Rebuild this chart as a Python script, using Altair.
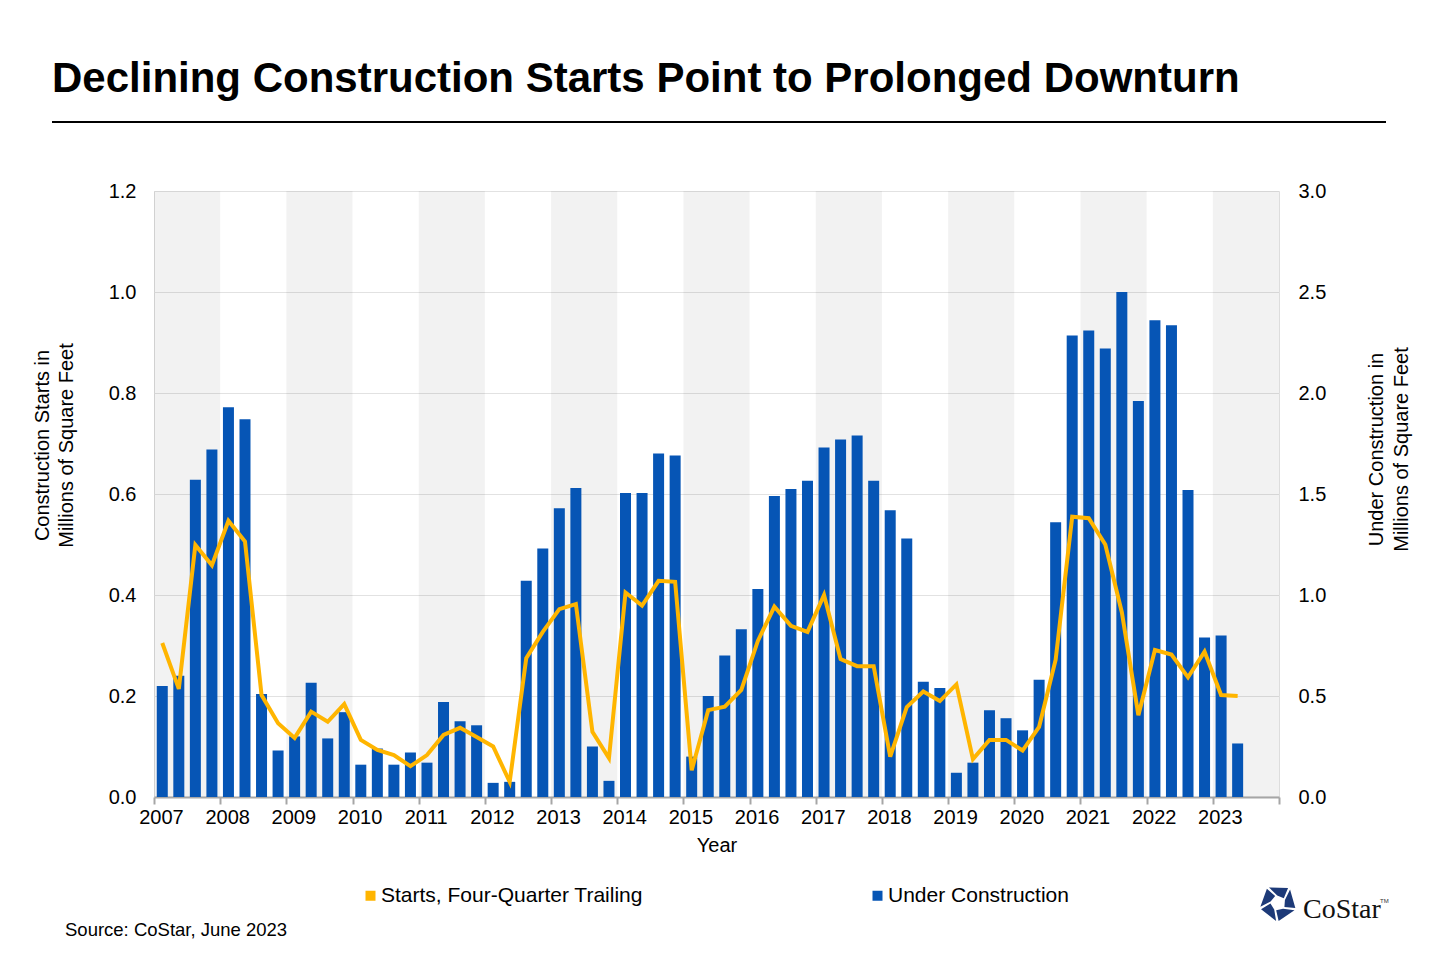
import math
import altair as alt
import pandas as pd

# quarterly series, 2007 Q1 .. 2023 Q2
years = list(range(2007, 2024))
quarter_years = [y for y in years for _ in range(4)][:66]
quarter_nums = [1, 2, 3, 4] * 17
quarter_nums = quarter_nums[:66]

# Starts, four-quarter trailing (left axis, millions sf)
starts = [
    0.305, 0.214, 0.499, 0.459,
    0.547, 0.506, 0.202, 0.146,
    0.117, 0.169, 0.149, 0.184,
    0.113, 0.093, 0.083, 0.061,
    0.083, 0.123, 0.137, 0.119,
    0.100, 0.030, 0.275, 0.327,
    0.372, 0.382, 0.129, 0.077,
    0.405, 0.379, 0.428, 0.426,
    0.053, 0.172, 0.179, 0.212,
    0.309, 0.377, 0.339, 0.327,
    0.400, 0.273, 0.259, 0.259,
    0.080, 0.178, 0.209, 0.190,
    0.223, 0.075, 0.113, 0.113,
    0.092, 0.139, 0.272, 0.555,
    0.552, 0.500, 0.366, 0.162,
    0.291, 0.282, 0.237, 0.288,
    0.202, 0.200,
]

# Under construction (right axis, millions sf)
under_construction = [
    0.55, 0.60, 1.57, 1.72,
    1.93, 1.87, 0.51, 0.23,
    0.30, 0.565, 0.29, 0.42,
    0.16, 0.24, 0.16, 0.22,
    0.17, 0.47, 0.375, 0.355,
    0.07, 0.075, 1.07, 1.23,
    1.43, 1.53, 0.25, 0.08,
    1.505, 1.505, 1.70, 1.69,
    0.20, 0.50, 0.70, 0.83,
    1.03, 1.49, 1.525, 1.565,
    1.73, 1.77, 1.79, 1.565,
    1.42, 1.28, 0.57, 0.54,
    0.12, 0.17, 0.43, 0.39,
    0.33, 0.58, 1.36, 2.285,
    2.31, 2.22, 2.50, 1.96,
    2.36, 2.335, 1.52, 0.79,
    0.80, 0.265,
]

left_ticks = [0.0, 0.2, 0.4, 0.6, 0.8, 1.0, 1.2]
right_ticks = [0.0, 0.5, 1.0, 1.5, 2.0, 2.5, 3.0]
year_ticks = list(range(2007, 2025))
shaded_years = [2007, 2009, 2011, 2013, 2015, 2017, 2019, 2021, 2023]

series_names = ["Starts, Four-Quarter Trailing", "Under Construction"]
series_colors = ["#FFB500", "#0655B5"]

FONT = "Liberation Sans"

df = pd.DataFrame({
    "year": quarter_years,
    "q": quarter_nums,
    "starts": starts,
    "uc": under_construction,
})
df["t"] = df["year"] + (df["q"] - 0.5) / 4
df["series"] = series_names[1]

bands = pd.DataFrame({"start": shaded_years})
bands["end"] = bands["start"] + 1

one = pd.DataFrame({"k": [0]})

x_scale = alt.Scale(domain=[2007, 2024], nice=False, zero=False, padding=0)
x_axis = alt.Axis(
    values=year_ticks, format="d", title="Year",
    labelExpr="datum.value == 2024 ? '' : datum.label",
    labelFontSize=20, titleFontSize=20, titleFontWeight="normal",
    labelColor="black", titleColor="black", labelFlush=False,
    labelOffset=7, labelPadding=3, titlePadding=8,
    grid=False, domainColor="#a6a6a6", domainWidth=2,
    tickColor="#a6a6a6", tickWidth=2, tickSize=7,
)

band_layer = alt.Chart(bands).mark_rect(color="black", opacity=0.052).encode(
    x=alt.X("start:Q", scale=x_scale, axis=x_axis),
    x2="end:Q",
)

bar_layer = alt.Chart(df).mark_bar(size=11).encode(
    x=alt.X("t:Q", scale=x_scale, axis=x_axis),
    y=alt.Y("uc:Q", scale=alt.Scale(domain=[0, 3], nice=False),
            axis=alt.Axis(
                orient="right", values=right_ticks, format=".1f",
                title=["Under Construction in", "Millions of Square Feet"],
                titleAngle=270, titleX=97, titleY=258,
                titleBaseline="middle", titleAlign="center", titleLineHeight=25,
                titleFontSize=20, titleFontWeight="normal", titleColor="black",
                labelFontSize=20, labelColor="black", labelPadding=19,
                domain=False, ticks=False, grid=False)),
    color=alt.Color("series:N",
                    scale=alt.Scale(domain=series_names, range=series_colors),
                    legend=alt.Legend(
                        orient="none", legendX=206, legendY=694,
                        direction="horizontal", title=None,
                        symbolType="square", symbolSize=100,
                        symbolStrokeWidth=0, labelFontSize=21,
                        labelOffset=0, labelLimit=0, columnPadding=224,
                        padding=0, labelColor="black", labelFont=FONT)),
)

line_layer = alt.Chart(df).mark_line(color=series_colors[0], strokeWidth=4).encode(
    x=alt.X("t:Q", scale=x_scale, axis=x_axis),
    y=alt.Y("starts:Q", scale=alt.Scale(domain=[0, 1.2], nice=False),
            axis=alt.Axis(
                orient="left", values=left_ticks, format=".1f",
                title=["Construction Starts in", "Millions of Square Feet"],
                titleAngle=270, titleX=-112, titleY=254,
                titleBaseline="middle", titleAlign="center", titleLineHeight=24,
                titleFontSize=20, titleFontWeight="normal", titleColor="black",
                labelFontSize=20, labelColor="black", labelPadding=18,
                domain=False, ticks=False,
                grid=True, gridColor="#e2e2e2", gridWidth=1)),
)

title_text = alt.Chart(one).mark_text(
    text="Declining Construction Starts Point to Prolonged Downturn",
    font=FONT, fontSize=42, fontWeight="bold", align="left",
    baseline="alphabetic", color="black",
).encode(x=alt.value(-102), y=alt.value(-99))

title_rule = alt.Chart(one).mark_rule(color="black", strokeWidth=2).encode(
    x=alt.value(-102), x2=alt.value(1232), y=alt.value(-69))

source_text = alt.Chart(one).mark_text(
    text="Source: CoStar, June 2023", font=FONT, fontSize=18.5,
    align="left", baseline="middle", color="black",
).encode(x=alt.value(-89), y=alt.value(739))

# CoStar logo: five-piece pinwheel mark plus wordmark
pieces = []
for k in range(5):
    th = -90 + 72 * k
    pts = [(1.0, th - 30), (1.0, th + 34), (0.42, th + 50), (0.42, th - 6)]
    coords = [(r * math.cos(math.radians(a)), r * math.sin(math.radians(a))) for r, a in pts]
    pieces.append("M" + " L".join(f"{x:.3f},{y:.3f}" for x, y in coords) + " Z")
star_path = " ".join(pieces)

logo_star = alt.Chart(one).mark_point(
    shape=star_path, filled=True, color="#1d3a78", opacity=1, size=1300, strokeWidth=0,
).encode(x=alt.value(1124), y=alt.value(712))

logo_text = alt.Chart(one).mark_text(
    text="CoStar", font="Liberation Serif", fontSize=28, align="left",
    baseline="alphabetic", color="#111111",
).encode(x=alt.value(1149), y=alt.value(727))

logo_tm = alt.Chart(one).mark_text(
    text="TM", font=FONT, fontSize=6, align="left",
    baseline="alphabetic", color="#333333",
).encode(x=alt.value(1226), y=alt.value(712))

chart = alt.layer(
    band_layer, bar_layer, line_layer,
    title_text, title_rule, source_text, logo_star, logo_text, logo_tm,
).resolve_scale(
    y="independent"
).properties(
    width=1125, height=606,
    autosize=alt.AutoSizeParams(type="none"),
    padding={"left": 146, "top": 183, "right": 153, "bottom": 155},
    background="white",
).configure_view(
    stroke=None
).configure(
    font=FONT
)

chart.save("out.html", embed_options={"renderer": "svg", "actions": False})
